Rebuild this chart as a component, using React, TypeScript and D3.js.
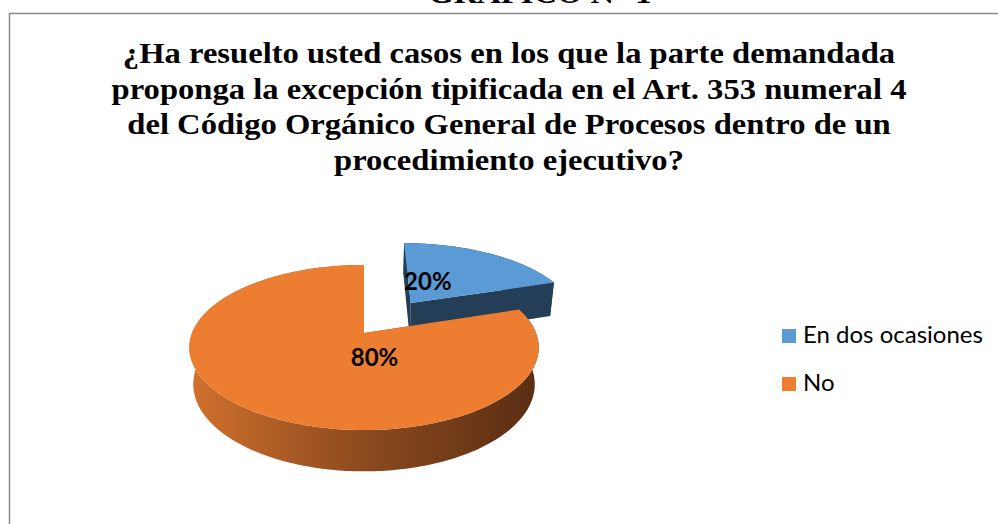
import React from "react";
import * as d3 from "d3";

const categories = ["En dos ocasiones", "No"];
const values = [20, 80];
const valueLabels = ["20%", "80%"];
const colors = ["#5B9BD5", "#ED7D31"];
const sideColors = ["#243E57", "#8C4A1E"];
const titleLines = [
  "¿Ha resuelto usted casos en los que la parte demandada",
  "proponga la excepción tipificada en el Art. 353 numeral 4",
  "del Código Orgánico General de Procesos dentro de un",
  "procedimiento ejecutivo?",
];
const topText = "GRÁFICO N° 1";

const W = 998;
const H = 524;

// 3D perspective pie parameters
const R = 172;
const DEPTH = 42;
const CX = 364;
const CY = 333;
const DIST = 867;
const TILT = Math.asin(0.465);
const SIN = Math.sin(TILT);
const COS = Math.cos(TILT);
const EXPLODE = [85, 0];
// label anchors in pie space (x, z) relative to slice center
const labelAnchor: [number, number][] = [
  [22, 56],
  [10, -50],
];
const TITLE_STRETCH = 1.125;

function project(X: number, Z: number, h: number): [number, number] {
  const v = Z * SIN + h * COS;
  const d = Z * COS - h * SIN;
  const k = DIST / (DIST + d);
  return [CX + X * k, CY - v * k];
}

function pathFrom(pts: [number, number][]) {
  return "M" + pts.map((p) => p[0].toFixed(2) + "," + p[1].toFixed(2)).join("L") + "Z";
}

export default function App() {
  const arcs = d3.pie<number>().sort(null).startAngle(0).endAngle(2 * Math.PI)(values);

  const slices = arcs.map((a, i) => {
    const mid = (a.startAngle + a.endAngle) / 2;
    const ox = EXPLODE[i] * Math.sin(mid);
    const oz = EXPLODE[i] * Math.cos(mid);
    const steps = Math.max(8, Math.ceil(((a.endAngle - a.startAngle) * 180) / Math.PI));
    const angs = d3.range(steps + 1).map((j) => a.startAngle + ((a.endAngle - a.startAngle) * j) / steps);
    const rim = (t: number, h: number) => project(ox + R * Math.sin(t), oz + R * Math.cos(t), h);
    const top: [number, number][] = [project(ox, oz, 0), ...angs.map((t) => rim(t, 0))];
    const band: [number, number][] = [
      ...angs.map((t) => rim(t, 0)),
      ...angs.slice().reverse().map((t) => rim(t, -DEPTH)),
    ];
    const radial = [a.startAngle, a.endAngle].map((t) =>
      pathFrom([project(ox, oz, 0), rim(t, 0), rim(t, -DEPTH), project(ox, oz, -DEPTH)])
    );
    const lab = project(ox + labelAnchor[i][0], oz + labelAnchor[i][1], 0);
    return { i, top: pathFrom(top), band: pathFrom(band), radial, lab };
  });

  const [gx0] = project(-R, 0, 0);
  const [gx1] = project(R, 0, 0);

  const serif = "'Liberation Serif', 'Times New Roman', serif";

  return (
    <svg
      width={W}
      height={H}
      style={{ position: "fixed", left: 0, top: 0, background: "#fff" }}
    >
      <defs>
        <linearGradient id="orangeSide" gradientUnits="userSpaceOnUse" x1={gx0} y1={0} x2={gx1} y2={0}>
          <stop offset="0%" stopColor="#D0702D" />
          <stop offset="50%" stopColor="#8C4A1E" />
          <stop offset="100%" stopColor="#5A2E13" />
        </linearGradient>
      </defs>
      <rect x={0} y={0} width={W} height={H} fill="#fff" />
      <text
        transform={`translate(540,3) scale(${TITLE_STRETCH},1)`}
        textAnchor="middle"
        fontFamily={serif}
        fontWeight="bold"
        fontSize={29}
        fill="#000"
      >
        {topText}
      </text>
      <path d={`M9.5,${H + 5}V13.5H${W + 5}`} fill="none" stroke="#8a8a8a" strokeWidth={1.5} />
      {titleLines.map((t, i) => (
        <text
          key={i}
          transform={`translate(509,${63 + i * 35.5}) scale(${TITLE_STRETCH},1)`}
          textAnchor="middle"
          fontFamily={serif}
          fontWeight="bold"
          fontSize={29}
          fill="#000"
        >
          {t}
        </text>
      ))}
      {slices.map((s) => (
        <g key={s.i}>
          {s.radial.map((d, j) => (
            <path key={j} d={d} fill={s.i === 0 ? sideColors[0] : sideColors[1]} />
          ))}
          <path d={s.band} fill={s.i === 0 ? sideColors[0] : "url(#orangeSide)"} />
          <path d={s.top} fill={colors[s.i]} />
        </g>
      ))}
      {slices.map((s) => (
        <text
          key={"l" + s.i}
          x={s.lab[0]}
          y={s.lab[1]}
          dy="0.35em"
          textAnchor="middle"
          fontFamily="Lato, 'Open Sans', sans-serif"
          fontWeight="bold"
          fontSize={24}
          fill="#000"
        >
          {valueLabels[s.i]}
        </text>
      ))}
      {categories.map((c, i) => (
        <g key={c}>
          <rect x={782} y={329 + i * 48} width={14} height={14} fill={colors[i]} />
          <text
            x={803}
            y={343 + i * 48}
            fontFamily="Lato, 'Open Sans', sans-serif"
            fontSize={24}
            fill="#000"
          >
            {c}
          </text>
        </g>
      ))}
    </svg>
  );
}
